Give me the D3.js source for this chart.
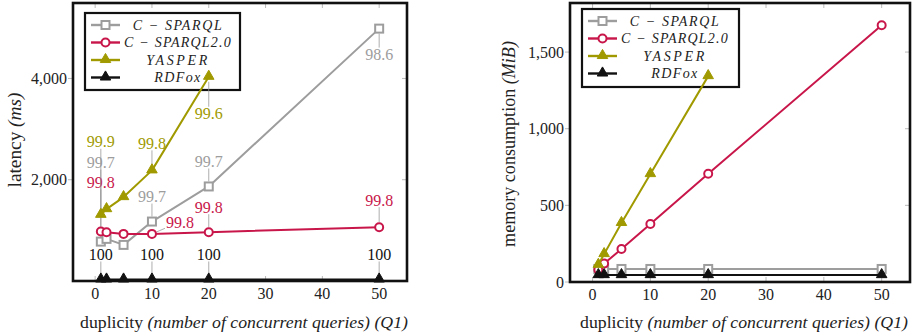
<!DOCTYPE html>
<html>
<head>
<meta charset="utf-8">
<script src="https://cdn.jsdelivr.net/npm/d3@7"></script>
</head>
<body style="margin:0;background:#fff">
<svg id="chart" width="918" height="336" style="display:block"></svg>
<script>
// x categories (duplicity)
const duplicity = [1, 2, 5, 10, 20, 50];
const seriesNames = ["C − SPARQL", "C − SPARQL2.0", "YASPER", "RDFox"];

// latency (ms), Q1
const latCSPARQL = [778, 832, 713, 1174, 1867, 4984];
const latCSPARQL2 = [976, 964, 930, 930, 964, 1063];
const latYASPER = [1307, 1419, 1657, 2185, 4033];
const latRDFox = [30, 30, 30, 30, 30, 30];

// accuracy (%) annotations on the latency plot
const accCSPARQL = ["99.7", null, null, "99.7", "99.7", "98.6"];
const accCSPARQL2 = ["99.8", null, null, "99.8", "99.8", "99.8"];
const accYASPER = ["99.9", null, null, "99.8", "99.6"];
const accRDFox = ["100", null, null, "100", "100", "100"];

// memory consumption (MiB), Q1
const memCSPARQL = [85, 85, 85, 85, 85, 85];
const memCSPARQL2 = [80, 120, 215, 378, 706, 1675];
const memYASPER = [112, 182, 385, 704, 1343];
const memRDFox = [45, 45, 45, 45, 45, 45];

const latTicks = [2000, 4000];
const memTicks = [0, 500, 1000, 1500];
const xTicks = [0, 10, 20, 30, 40, 50];

const colors = ["#9d9d9d", "#c8164a", "#a09a00", "#111111"];
const markers = ["square", "circle", "triangle", "triangle"];
const FONT = "'Liberation Serif', monospace";

// pin placement for the labels: [dx, dy] from the point, px
const pinsLat = [
  [[0, -79], null, null, [0, -25], [0, -25], [0, 26]],
  [[0, -49], null, null, [28, -12], [0, -25], [0, -27]],
  [[0, -73], null, null, [0, -27], [0, 37]],
  [[0, -25], null, null, [0, -25], [0, -25], [0, -25]]
];
// widths the legend entries take in the reference
const legendWidths = [89, 107, 61, 46];

const svg = d3.select("#chart");

function txt(g, x, y, size) {
  return g.append("text").attr("x", x).attr("y", y).attr("dy", "0.35em")
    .attr("font-size", size).style("font-family", FONT).attr("fill", "#222");
}

// scale font so that a text gets a given width
function fitWidth(sel, size, w) {
  const n = sel.node().getComputedTextLength();
  sel.attr("font-size", size * w / n);
}

function marker(g, type, x, y, color) {
  if (type === "square") {
    g.append("rect").attr("x", x - 4).attr("y", y - 4).attr("width", 8).attr("height", 8)
      .attr("fill", "#fff").attr("stroke", color).attr("stroke-width", 2);
  } else if (type === "circle") {
    g.append("circle").attr("cx", x).attr("cy", y).attr("r", 4)
      .attr("fill", "#fff").attr("stroke", color).attr("stroke-width", 2);
  } else {
    g.append("path").attr("d", d3.symbol(d3.symbolTriangle).size(48)())
      .attr("transform", "translate(" + x + "," + (y - 0.5) + ")")
      .attr("fill", color).attr("stroke", color).attr("stroke-width", 1);
  }
}

function drawPanel(cfg) {
  const g = svg.append("g");
  const x = d3.scaleLinear().domain([-3.9, 54.9]).range([cfg.left, cfg.right]);
  const y = d3.scaleLinear().domain([0, cfg.ymax]).range([cfg.bottom, cfg.top]);

  // ticks
  const tc = "#a8a8a8";
  xTicks.forEach(t => {
    g.append("line").attr("x1", x(t)).attr("x2", x(t)).attr("y1", cfg.bottom).attr("y2", cfg.bottom - 5)
      .attr("stroke", tc).attr("stroke-width", 0.8);
    g.append("line").attr("x1", x(t)).attr("x2", x(t)).attr("y1", cfg.top).attr("y2", cfg.top + 5)
      .attr("stroke", tc).attr("stroke-width", 0.8);
    txt(g, x(t), cfg.bottom + 12.5, 16).attr("text-anchor", "middle").text(t);
  });
  cfg.yTicks.forEach(t => {
    g.append("line").attr("x1", cfg.left - 5).attr("x2", cfg.left).attr("y1", y(t)).attr("y2", y(t))
      .attr("stroke", tc).attr("stroke-width", 0.8);
    g.append("line").attr("x1", cfg.right - 5).attr("x2", cfg.right).attr("y1", y(t)).attr("y2", y(t))
      .attr("stroke", tc).attr("stroke-width", 0.8);
    txt(g, cfg.left - 6, y(t), 16).attr("text-anchor", "end").text(d3.format(",")(t));
  });

  // legend (plot lines go over it)
  const lg = cfg.legend;
  g.append("rect").attr("x", lg.x).attr("y", lg.y).attr("width", lg.w).attr("height", lg.h)
    .attr("fill", "#fff").attr("stroke", "#111").attr("stroke-width", 2.2);
  seriesNames.forEach((name, si) => {
    const ry = lg.y + 12 + si * lg.step;
    g.append("line").attr("x1", lg.x + 6).attr("x2", lg.x + 35).attr("y1", ry).attr("y2", ry)
      .attr("stroke", colors[si]).attr("stroke-width", 2.4);
    marker(g, markers[si], lg.x + 20.5, ry, colors[si]);
    const t = txt(g, lg.x + 93, ry, 14).attr("text-anchor", "middle")
      .attr("font-style", "italic").text(name);
    const n = t.node().getComputedTextLength();
    t.attr("letter-spacing", (legendWidths[si] - n) / (name.length - 1));
  });

  // pins + labels
  if (cfg.labels) {
    cfg.labels.forEach((lab, si) => {
      lab.forEach((s, i) => {
        if (!s) return;
        const px = x(duplicity[i]), py = y(cfg.series[si][i]);
        const [dx, dy] = cfg.pins[si][i];
        const L = Math.hypot(dx, dy);
        const k = Math.min(dy ? 7 / Math.abs(dy) : 1, dx ? 15 / Math.abs(dx) : 1);
        g.append("line").attr("x1", px + dx / L * 5).attr("y1", py + dy / L * 5)
          .attr("x2", px + dx - dx * k).attr("y2", py + dy - dy * k)
          .attr("stroke", "#999").attr("stroke-width", 0.8);
        txt(g, px + dx, py + dy, 16).attr("text-anchor", "middle").attr("fill", colors[si]).text(s);
      });
    });
  }

  // series
  const line = d3.line().x(d => x(d[0])).y(d => y(d[1]));
  cfg.series.forEach((vals, si) => {
    const pts = vals.map((v, i) => [duplicity[i], v]);
    g.append("path").datum(pts).attr("d", line).attr("fill", "none")
      .attr("stroke", colors[si]).attr("stroke-width", 2).attr("stroke-linejoin", "round");
    pts.forEach(p => marker(g, markers[si], x(p[0]), y(p[1]), colors[si]));
  });

  // frame
  g.append("rect").attr("x", cfg.left).attr("y", cfg.top)
    .attr("width", cfg.right - cfg.left).attr("height", cfg.bottom - cfg.top)
    .attr("fill", "none").attr("stroke", "#111").attr("stroke-width", 2.6);

  // axis titles
  const xt = txt(g, (cfg.left + cfg.right) / 2 + 4, 322, 16).attr("text-anchor", "middle");
  xt.append("tspan").text("duplicity ");
  xt.append("tspan").attr("font-style", "italic").text("(number of concurrent queries) (Q1)");
  fitWidth(xt, 16, 328);

  const yt = txt(g, 0, 0, 16).attr("x", null).attr("y", null)
    .attr("transform", "translate(" + cfg.ylabX + "," + cfg.ylabY + ") rotate(-90)")
    .attr("text-anchor", "middle");
  yt.append("tspan").text(cfg.ylabel[0]);
  yt.append("tspan").attr("font-style", "italic").text(cfg.ylabel[1]);
  fitWidth(yt, 16, cfg.ylabW);
}

drawPanel({
  left: 73, right: 407, top: 3, bottom: 281, ymax: 5490,
  yTicks: latTicks,
  series: [latCSPARQL, latCSPARQL2, latYASPER, latRDFox],
  labels: [accCSPARQL, accCSPARQL2, accYASPER, accRDFox],
  pins: pinsLat,
  legend: { x: 85, y: 13, w: 155, h: 77, step: 17.5 },
  ylabel: ["latency ", "(ms)"], ylabX: 14, ylabY: 140, ylabW: 95
});

drawPanel({
  left: 570, right: 910, top: 3, bottom: 282, ymax: 1820,
  yTicks: memTicks,
  series: [memCSPARQL, memCSPARQL2, memYASPER, memRDFox],
  legend: { x: 582, y: 9, w: 157, h: 78, step: 17.5 },
  ylabel: ["memory consumption ", "(MiB)"], ylabX: 509, ylabY: 144, ylabW: 206
});
</script>
</body>
</html>
